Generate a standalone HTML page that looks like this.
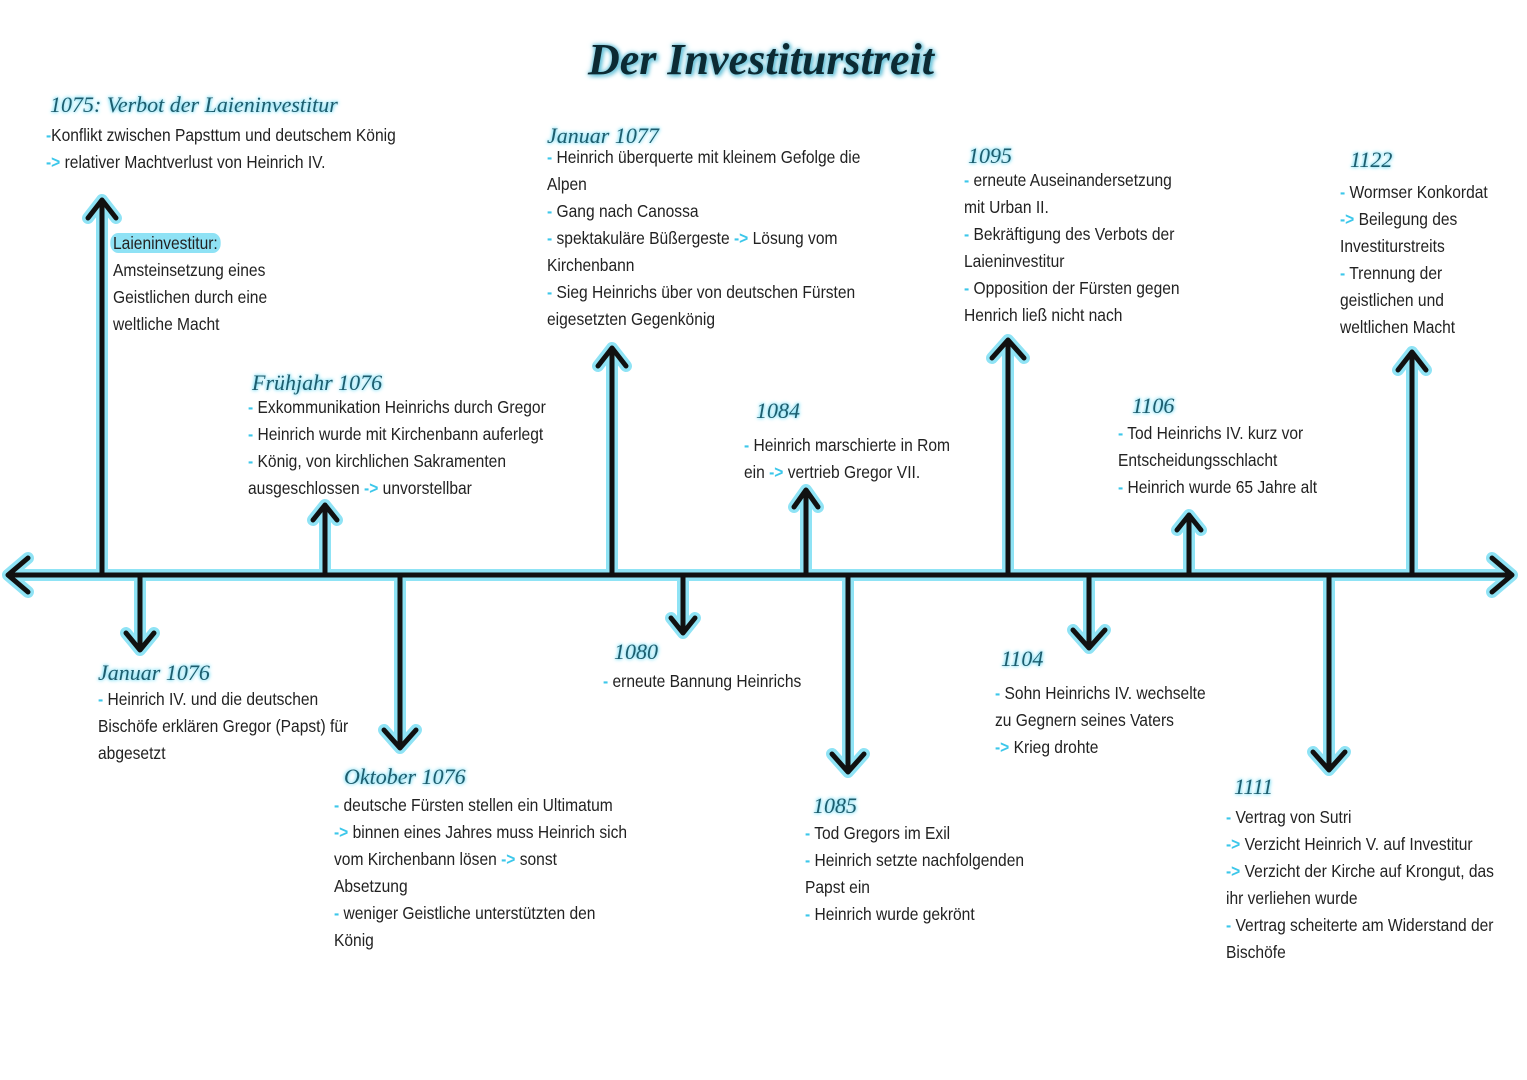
<!DOCTYPE html>
<html><head><meta charset="utf-8">
<style>
html,body{margin:0;padding:0;background:#fff;width:1527px;height:1080px;overflow:hidden;position:relative}
.t{position:absolute;font-family:"Liberation Sans Narrow","Liberation Sans",sans-serif;font-size:17.5px;line-height:27px;color:#222;white-space:nowrap;transform-origin:0 0;transform:scaleX(0.89)}
.h{position:absolute;font-family:"Liberation Serif",serif;font-style:italic;font-weight:normal;font-size:22px;color:#1d5d6e;white-space:nowrap;text-shadow:0 0 3px #5fd6f2,0 0 5px #8fe3f5}
.d{color:#3cc7ea;font-weight:bold}
.title{position:absolute;left:588px;top:34px;font-family:"Liberation Serif",serif;font-style:italic;font-weight:bold;font-size:44px;color:#0c2a33;text-shadow:0 0 3px #6fc6dc,0 0 6px #6fc6dc,2px 2px 4px #6fc6dc;white-space:nowrap}
.hl{background:#8fe2f5;border-radius:9px;padding:0 3px;margin-left:-3px}
</style></head><body>
<svg width="1527" height="1080" style="position:absolute;left:0;top:0">
<g fill="none" stroke-linecap="round" stroke-linejoin="round">
<g stroke="#8fe3f5" stroke-width="12">
<path d="M8 575H1512M28 558L8 575L28 592M1492 558L1512 575L1492 592"/>
<path d="M102 575V200M88 218L102 200L116 218"/>
<path d="M325 575V505M313 520L325 505L337 520"/>
<path d="M612 575V348M598 366L612 348L626 366"/>
<path d="M806 575V490M794 507L806 490L818 507"/>
<path d="M1008 575V340M992 358L1008 340L1024 358"/>
<path d="M1189 575V515M1177 530L1189 515L1201 530"/>
<path d="M1412 575V352M1398 370L1412 352L1426 370"/>
<path d="M140 575V650M126 633L140 650L154 633"/>
<path d="M400 575V748M384 730L400 748L416 730"/>
<path d="M683 575V633M671 618L683 633L695 618"/>
<path d="M848 575V772M832 754L848 772L864 754"/>
<path d="M1089 575V648M1073 630L1089 648L1105 630"/>
<path d="M1329 575V770M1313 752L1329 770L1345 752"/>
</g>
<g stroke="#111" stroke-width="5">
<path d="M8 575H1512M28 558L8 575L28 592M1492 558L1512 575L1492 592"/>
<path d="M102 575V200M88 218L102 200L116 218"/>
<path d="M325 575V505M313 520L325 505L337 520"/>
<path d="M612 575V348M598 366L612 348L626 366"/>
<path d="M806 575V490M794 507L806 490L818 507"/>
<path d="M1008 575V340M992 358L1008 340L1024 358"/>
<path d="M1189 575V515M1177 530L1189 515L1201 530"/>
<path d="M1412 575V352M1398 370L1412 352L1426 370"/>
<path d="M140 575V650M126 633L140 650L154 633"/>
<path d="M400 575V748M384 730L400 748L416 730"/>
<path d="M683 575V633M671 618L683 633L695 618"/>
<path d="M848 575V772M832 754L848 772L864 754"/>
<path d="M1089 575V648M1073 630L1089 648L1105 630"/>
<path d="M1329 575V770M1313 752L1329 770L1345 752"/>
</g></g></svg>

<div class="title">Der Investiturstreit</div>

<div class="h" style="left:50px;top:92px">1075: Verbot der Laieninvestitur</div>
<div class="t" style="left:46px;top:122px"><span class="d">-</span>Konflikt zwischen Papsttum und deutschem König<br><span class="d">-&gt;</span> relativer Machtverlust von Heinrich IV.</div>
<div class="t" style="left:113px;top:230px"><span class="hl">Laieninvestitur:</span><br>Amsteinsetzung eines<br>Geistlichen durch eine<br>weltliche Macht</div>

<div class="h" style="left:252px;top:370px">Frühjahr 1076</div>
<div class="t" style="left:248px;top:394px"><span class="d">-</span> Exkommunikation Heinrichs durch Gregor<br><span class="d">-</span> Heinrich wurde mit Kirchenbann auferlegt<br><span class="d">-</span> König, von kirchlichen Sakramenten<br>ausgeschlossen <span class="d">-&gt;</span> unvorstellbar</div>

<div class="h" style="left:547px;top:123px">Januar 1077</div>
<div class="t" style="left:547px;top:144px"><span class="d">-</span> Heinrich überquerte mit kleinem Gefolge die<br>Alpen<br><span class="d">-</span> Gang nach Canossa<br><span class="d">-</span> spektakuläre Büßergeste <span class="d">-&gt;</span> Lösung vom<br>Kirchenbann<br><span class="d">-</span> Sieg Heinrichs über von deutschen Fürsten<br>eigesetzten Gegenkönig</div>

<div class="h" style="left:756px;top:398px">1084</div>
<div class="t" style="left:744px;top:432px"><span class="d">-</span> Heinrich marschierte in Rom<br>ein <span class="d">-&gt;</span> vertrieb Gregor VII.</div>

<div class="h" style="left:968px;top:143px">1095</div>
<div class="t" style="left:964px;top:167px"><span class="d">-</span> erneute Auseinandersetzung<br>mit Urban II.<br><span class="d">-</span> Bekräftigung des Verbots der<br>Laieninvestitur<br><span class="d">-</span> Opposition der Fürsten gegen<br>Henrich ließ nicht nach</div>

<div class="h" style="left:1132px;top:393px">1106</div>
<div class="t" style="left:1118px;top:420px"><span class="d">-</span> Tod Heinrichs IV. kurz vor<br>Entscheidungsschlacht<br><span class="d">-</span> Heinrich wurde 65 Jahre alt</div>

<div class="h" style="left:1350px;top:147px">1122</div>
<div class="t" style="left:1340px;top:179px"><span class="d">-</span> Wormser Konkordat<br><span class="d">-&gt;</span> Beilegung des<br>Investiturstreits<br><span class="d">-</span> Trennung der<br>geistlichen und<br>weltlichen Macht</div>

<div class="h" style="left:98px;top:660px">Januar 1076</div>
<div class="t" style="left:98px;top:686px"><span class="d">-</span> Heinrich IV. und die deutschen<br>Bischöfe erklären Gregor (Papst) für<br>abgesetzt</div>

<div class="h" style="left:344px;top:764px">Oktober 1076</div>
<div class="t" style="left:334px;top:792px"><span class="d">-</span> deutsche Fürsten stellen ein Ultimatum<br><span class="d">-&gt;</span> binnen eines Jahres muss Heinrich sich<br>vom Kirchenbann lösen <span class="d">-&gt;</span> sonst<br>Absetzung<br><span class="d">-</span> weniger Geistliche unterstützten den<br>König</div>

<div class="h" style="left:614px;top:639px">1080</div>
<div class="t" style="left:603px;top:668px"><span class="d">-</span> erneute Bannung Heinrichs</div>

<div class="h" style="left:813px;top:793px">1085</div>
<div class="t" style="left:805px;top:820px"><span class="d">-</span> Tod Gregors im Exil<br><span class="d">-</span> Heinrich setzte nachfolgenden<br>Papst ein<br><span class="d">-</span> Heinrich wurde gekrönt</div>

<div class="h" style="left:1001px;top:646px">1104</div>
<div class="t" style="left:995px;top:680px"><span class="d">-</span> Sohn Heinrichs IV. wechselte<br>zu Gegnern seines Vaters<br><span class="d">-&gt;</span> Krieg drohte</div>

<div class="h" style="left:1234px;top:774px">1111</div>
<div class="t" style="left:1226px;top:804px"><span class="d">-</span> Vertrag von Sutri<br><span class="d">-&gt;</span> Verzicht Heinrich V. auf Investitur<br><span class="d">-&gt;</span> Verzicht der Kirche auf Krongut, das<br>ihr verliehen wurde<br><span class="d">-</span> Vertrag scheiterte am Widerstand der<br>Bischöfe</div>
</body></html>
